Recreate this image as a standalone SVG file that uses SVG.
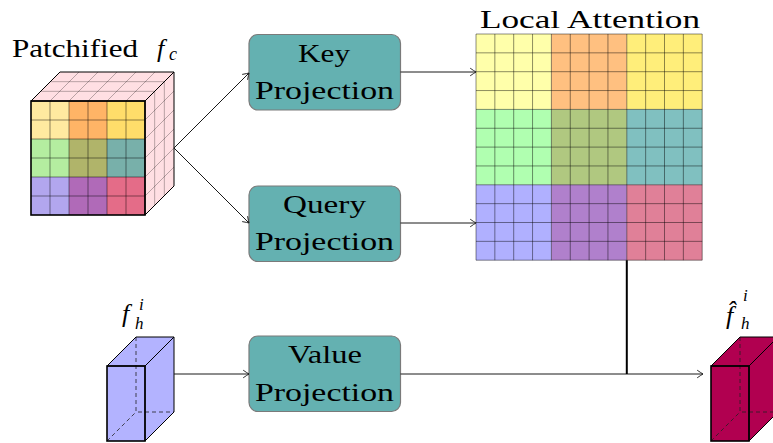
<svg xmlns="http://www.w3.org/2000/svg" width="773" height="443" viewBox="0 0 773 443">
  <style>
    .box { fill: #64b1b1; stroke: #7a7a7a; stroke-width: 1.2; }
    .conn { fill: none; stroke: #1a1a1a; stroke-width: 1; }
    .grid { fill: none; stroke: #000; stroke-opacity: 0.45; stroke-width: 1; }
    .pgrid { fill: none; stroke: #000; stroke-opacity: 0.28; stroke-width: 1; }
    .edge { fill: none; stroke: #000; stroke-width: 1; }
    .front { fill: none; stroke: #000; stroke-width: 1.6; }
    .hidden { fill: none; stroke: #222; stroke-width: 0.8; stroke-dasharray: 4 3; }
  </style>
  <defs>
    <marker id="arr" markerUnits="userSpaceOnUse" markerWidth="10" markerHeight="10" refX="0" refY="0" viewBox="-7 -5 8 10" orient="auto" overflow="visible">
      <path d="M -5.5 -3.6 Q -1.8 -1 0 0 Q -1.8 1 -5.5 3.6" fill="none" stroke="#1a1a1a" stroke-width="0.9" stroke-linecap="round"/>
    </marker>
  </defs>

  <g font-family="Liberation Serif, Times New Roman, DejaVu Serif, serif" font-size="26" fill="#000">

  <!-- patchified feature cube -->
  <g id="patchified">
    <polygon points="31,101 60,72 174,72 145,101" fill="#ffdfe3"/>
    <polygon points="145,101 174,72 174,186 145,215" fill="#ffdfe3"/>
    <path class="pgrid" d="M50,101 L79,72 M69,101 L98,72 M88,101 L117,72 M107,101 L136,72 M126,101 L155,72
      M40.67,91.33 L154.67,91.33 M50.33,81.67 L164.33,81.67
      M145,120 L174,91 M145,139 L174,110 M145,158 L174,129 M145,177 L174,148 M145,196 L174,167
      M154.67,91.33 L154.67,205.33 M164.33,81.67 L164.33,195.67"/>
    <rect x="31" y="101" width="38" height="38" fill="#ffeaa0"/>
    <rect x="69" y="101" width="38" height="38" fill="#ffb466"/>
    <rect x="107" y="101" width="38" height="38" fill="#ffdd6a"/>
    <rect x="31" y="139" width="38" height="38" fill="#b4eda0"/>
    <rect x="69" y="139" width="38" height="38" fill="#b0b46a"/>
    <rect x="107" y="139" width="38" height="38" fill="#78b0aa"/>
    <rect x="31" y="177" width="38" height="38" fill="#b2a6ee"/>
    <rect x="69" y="177" width="38" height="38" fill="#b06ab8"/>
    <rect x="107" y="177" width="38" height="38" fill="#e46c88"/>
    <path class="grid" d="M50,101 V215 M69,101 V215 M88,101 V215 M107,101 V215 M126,101 V215
      M31,120 H145 M31,139 H145 M31,158 H145 M31,177 H145 M31,196 H145"/>
    <polygon class="edge" points="31,101 60,72 174,72 145,101"/>
    <polygon class="edge" points="145,101 174,72 174,186 145,215"/>
    <rect class="front" x="31" y="101" width="114" height="114"/>
    <text x="12" y="57" textLength="126" lengthAdjust="spacingAndGlyphs">Patchified</text>
    <text font-style="italic" x="157" y="57">f</text>
    <text font-style="italic" font-size="18" x="169" y="60">c</text>
  </g>

  <!-- local attention map -->
  <g id="attention">
    <rect x="476" y="34" width="75.4" height="75.4" fill="#ffffaa"/>
    <rect x="551.4" y="34" width="75.4" height="75.4" fill="#ffc080"/>
    <rect x="626.8" y="34" width="75.4" height="75.4" fill="#ffee7a"/>
    <rect x="476" y="109.4" width="75.4" height="75.4" fill="#b0ffb0"/>
    <rect x="551.4" y="109.4" width="75.4" height="75.4" fill="#b0c880"/>
    <rect x="626.8" y="109.4" width="75.4" height="75.4" fill="#80c0c0"/>
    <rect x="476" y="184.8" width="75.4" height="75.4" fill="#b0b0ff"/>
    <rect x="551.4" y="184.8" width="75.4" height="75.4" fill="#b080cc"/>
    <rect x="626.8" y="184.8" width="75.4" height="75.4" fill="#e08098"/>
    <path class="grid" d="M476,34 V260.2 M494.85,34 V260.2 M513.7,34 V260.2 M532.55,34 V260.2 M551.4,34 V260.2
      M570.25,34 V260.2 M589.1,34 V260.2 M607.95,34 V260.2 M626.8,34 V260.2 M645.65,34 V260.2
      M664.5,34 V260.2 M683.35,34 V260.2 M702.2,34 V260.2
      M476,34 H702.2 M476,52.85 H702.2 M476,71.7 H702.2 M476,90.55 H702.2 M476,109.4 H702.2
      M476,128.25 H702.2 M476,147.1 H702.2 M476,165.95 H702.2 M476,184.8 H702.2 M476,203.65 H702.2
      M476,222.5 H702.2 M476,241.35 H702.2 M476,260.2 H702.2"/>
    <text x="480" y="28" textLength="220" lengthAdjust="spacingAndGlyphs">Local Attention</text>
  </g>

  <!-- projection blocks -->
  <g id="key">
    <rect class="box" x="249" y="34.5" width="151.5" height="75.5" rx="9"/>
    <text x="298" y="62" textLength="52" lengthAdjust="spacingAndGlyphs">Key</text>
    <text x="255" y="99" textLength="139" lengthAdjust="spacingAndGlyphs">Projection</text>
  </g>
  <g id="query">
    <rect class="box" x="249" y="186" width="151.5" height="75.5" rx="9"/>
    <text x="283" y="213" textLength="83" lengthAdjust="spacingAndGlyphs">Query</text>
    <text x="255" y="250" textLength="139" lengthAdjust="spacingAndGlyphs">Projection</text>
  </g>
  <g id="value">
    <rect class="box" x="249" y="336" width="151.5" height="75.5" rx="9"/>
    <text x="288" y="363" textLength="74" lengthAdjust="spacingAndGlyphs">Value</text>
    <text x="255" y="401" textLength="139" lengthAdjust="spacingAndGlyphs">Projection</text>
  </g>

  <!-- input head feature -->
  <g id="input-head">
    <polygon points="107,366 136,337 174,337 145,366" fill="#b3b3ff"/>
    <polygon points="145,366 174,337 174,412 145,441" fill="#b3b3ff"/>
    <rect x="107" y="366" width="38" height="75" fill="#b3b3ff"/>
    <path class="hidden" d="M136,337 V412 H174 M107,441 L136,412"/>
    <polygon class="edge" points="107,366 136,337 174,337 145,366"/>
    <polygon class="edge" points="145,366 174,337 174,412 145,441"/>
    <rect class="front" x="107" y="366" width="38" height="75"/>
    <text font-style="italic" x="122" y="322">f</text>
    <text font-style="italic" font-size="17" x="139" y="310">i</text>
    <text font-style="italic" font-size="17" x="135" y="329">h</text>
  </g>

  <!-- output head feature -->
  <g id="output-head">
    <polygon points="711,366 740,337 778,337 749,366" fill="#b10050"/>
    <polygon points="749,366 778,337 778,412 749,441" fill="#b10050"/>
    <rect x="711" y="366" width="38" height="75" fill="#b10050"/>
    <path class="hidden" d="M740,337 V412 H778 M711,441 L740,412"/>
    <polygon class="edge" points="711,366 740,337 778,337 749,366"/>
    <polygon class="edge" points="749,366 778,337 778,412 749,441"/>
    <rect class="front" x="711" y="366" width="38" height="75"/>
    <text font-style="italic" x="726" y="324">f&#x302;</text>
    <text font-style="italic" font-size="17" x="743" y="301">i</text>
    <text font-style="italic" font-size="17" x="741" y="329">h</text>
  </g>

  </g>

  <!-- connectors -->
  <g id="connectors">
    <path class="conn" d="M174,148 L249,73" marker-end="url(#arr)"/>
    <path class="conn" d="M174,148 L249,223" marker-end="url(#arr)"/>
    <path class="conn" d="M400.5,72 L476,72" marker-end="url(#arr)"/>
    <path class="conn" d="M400.5,223 L476,223" marker-end="url(#arr)"/>
    <path class="conn" d="M174,374 L249,374" marker-end="url(#arr)"/>
    <path class="conn" d="M400.5,374 L703,374" marker-end="url(#arr)"/>
    <path fill="none" stroke="#000" stroke-width="2" d="M626.8,260.2 V374"/>
  </g>
</svg>
